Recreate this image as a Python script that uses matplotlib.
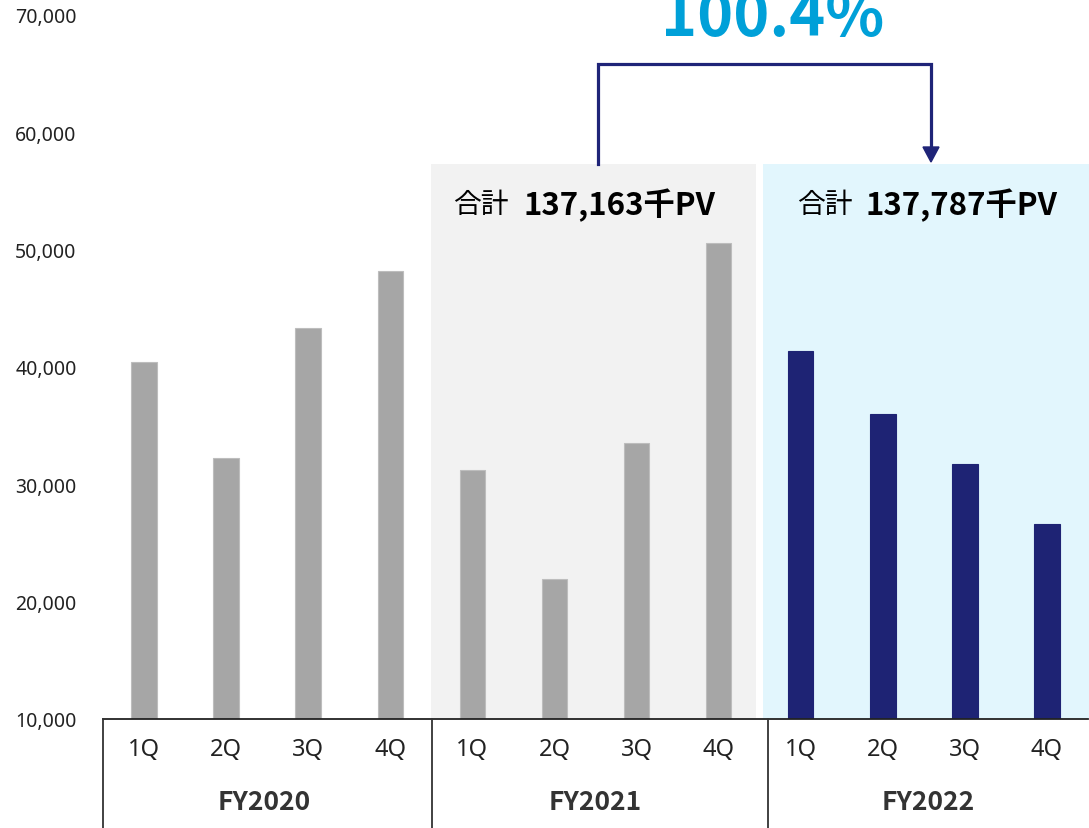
import matplotlib
matplotlib.use("Agg")
import matplotlib.pyplot as plt
import matplotlib.transforms as mtransforms
from matplotlib.patches import Rectangle, Polygon
from matplotlib.lines import Line2D

plt.rcParams['font.family'] = ['Noto Sans', 'Noto Sans CJK JP', 'DejaVu Sans']
BOLDFAM = ['Noto Sans CJK JP', 'DejaVu Sans']

# ---- data ----
quarters = ["1Q", "2Q", "3Q", "4Q"]
years = ["FY2020", "FY2021", "FY2022"]
fy2020 = [40400, 32220, 43300, 48160]
fy2021 = [31220, 21900, 33500, 50540]
fy2022 = [41360, 36000, 31730, 26620]
total_labels = ["137,163千PV", "137,787千PV"]
ratio_label = "100.4%"
yticks = [10000, 20000, 30000, 40000, 50000, 60000, 70000]

W, H = 1089, 829
fig = plt.figure(figsize=(W / 100, H / 100), dpi=100)
fig.patch.set_facecolor("white")

def F(x, y):
    """figure-pixel (top-left origin) -> figure fraction"""
    return (x / W, 1 - y / H)

ax = fig.add_axes([103 / W, 109 / H, 985 / W, 704 / H])
ax.set_xlim(-0.5, 11.5)
ax.set_ylim(10000, 70000)

GREY = "#A6A6A6"
NAVY = "#1E2374"
values = fy2020 + fy2021 + fy2022
xs = list(range(len(values)))
colors = [GREY] * 8 + [NAVY] * 4
edges = ["#BDBDBD"] * 8 + [NAVY] * 4

# backgrounds
bg_top = 57300
ax.add_patch(Rectangle((3.5, 10000), 7.46 - 3.5, bg_top - 10000,
                       facecolor="#F2F2F2", edgecolor="none", zorder=0))
ax.add_patch(Rectangle((7.54, 10000), 11.6 - 7.54, bg_top - 10000,
                       facecolor="#E2F6FD", edgecolor="none", zorder=0, clip_on=False))

ax.bar(xs, values, width=0.31, color=colors, edgecolor=edges, linewidth=0.8, zorder=2)

# axes styling
for s in ["top", "right", "left"]:
    ax.spines[s].set_visible(False)
ax.spines["bottom"].set_color("#222222")
ax.spines["bottom"].set_linewidth(1.3)
ax.set_xticks([])
ax.set_yticks(yticks)
ax.set_yticklabels([f"{v:,}" for v in yticks], fontsize=14, color="#222222")
ax.tick_params(axis="y", length=0, pad=19)
ax.patch.set_alpha(0)

# category axis below
for px in [103, 432, 768]:
    fig.add_artist(Line2D([px / W, px / W], [1 - 720 / H, 0], color="#333333",
                          linewidth=1.3, transform=fig.transFigure))
qtrans = mtransforms.blended_transform_factory(ax.transData, fig.transFigure)
for i, x in enumerate(xs):
    ax.text(x, 1 - 750 / H, quarters[i % 4], transform=qtrans, clip_on=False,
            ha="center", va="center", fontsize=17, color="#222222")

fy_centers = [264, 595, 928]
for name, cx in zip(years, fy_centers):
    fig.text(*F(cx, 803), name, ha="center", va="center", fontsize=19,
             fontweight="bold", color="#333333", family=BOLDFAM)

# total labels
for lab, (xr, xl) in zip(total_labels, [(509, 523), (853, 865)]):
    fig.text(*F(xr, 205), "合計", ha="right", va="center", fontsize=20,
             color="black", family=BOLDFAM)
    fig.text(*F(xl, 205), lab, ha="left", va="center", fontsize=22.5,
             fontweight="bold", color="black", family=BOLDFAM)

# bracket arrow
AC = "#1F2478"
fig.add_artist(Line2D([598 / W, 598 / W, 931 / W, 931 / W],
                      [1 - 165 / H, 1 - 65 / H, 1 - 65 / H, 1 - 150 / H],
                      color=AC, linewidth=2.3, transform=fig.transFigure,
                      solid_joinstyle="miter"))
fig.add_artist(Polygon([F(923, 148), F(939, 148), F(931, 163)], closed=True,
                       facecolor=AC, edgecolor=AC, transform=fig.transFigure))

fig.text(*F(773, 36), ratio_label, ha="center", va="baseline", fontsize=44,
         fontweight="bold", color="#00A0D8", family=BOLDFAM)

fig.savefig("out.png", dpi=100)
